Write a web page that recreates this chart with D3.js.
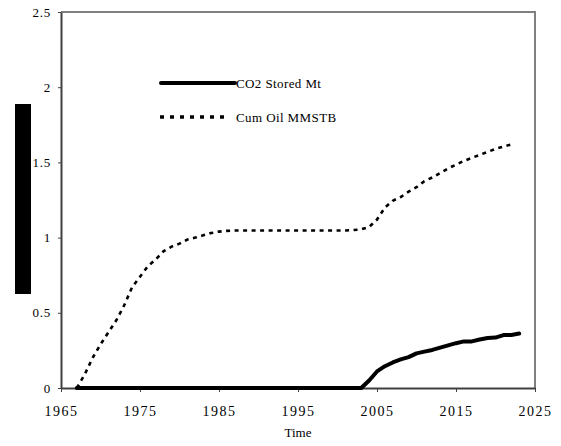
<!DOCTYPE html>
<html>
<head>
<meta charset="utf-8">
<script src="https://cdn.jsdelivr.net/npm/d3@7"></script>
<style>
  body { margin: 0; background: #fff; }
  text { font-family: "Liberation Serif", "Times New Roman", serif; fill: #000; }
</style>
</head>
<body>
<div id="chart"></div>
<script>
// Data
const oilYears = [1967, 1968, 1969, 1970, 1971, 1972, 1973, 1974, 1975, 1976,
  1977, 1978, 1979, 1980, 1981, 1982, 1983, 1984, 1985, 1986,
  1987, 1988, 1989, 1990, 1991, 1992, 1993, 1994, 1995, 1996,
  1997, 1998, 1999, 2000, 2001, 2002, 2003, 2004, 2005, 2006,
  2007, 2008, 2009, 2010, 2011, 2012, 2013, 2014, 2015, 2016,
  2017, 2018, 2019, 2020, 2021, 2022];
const cumOil = [0, 0.09, 0.2, 0.29, 0.37, 0.45, 0.55, 0.67, 0.74, 0.81,
  0.855, 0.91, 0.94, 0.96, 0.987, 1.0, 1.015, 1.03, 1.04, 1.045,
  1.047, 1.047, 1.047, 1.047, 1.047, 1.047, 1.047, 1.047, 1.047, 1.047,
  1.047, 1.047, 1.047, 1.047, 1.047, 1.05, 1.055, 1.07, 1.12, 1.2,
  1.245, 1.27, 1.305, 1.335, 1.375, 1.4, 1.43, 1.46, 1.485, 1.51,
  1.53, 1.55, 1.57, 1.59, 1.605, 1.62];

const co2Years = [1967, 1968, 1969, 1970, 1971, 1972, 1973, 1974, 1975, 1976,
  1977, 1978, 1979, 1980, 1981, 1982, 1983, 1984, 1985, 1986,
  1987, 1988, 1989, 1990, 1991, 1992, 1993, 1994, 1995, 1996,
  1997, 1998, 1999, 2000, 2001, 2002, 2003, 2004, 2005, 2006,
  2007, 2008, 2009, 2010, 2011, 2012, 2013, 2014, 2015, 2016,
  2017, 2018, 2019, 2020, 2021, 2022, 2023];
const co2Stored = [0, 0, 0, 0, 0, 0, 0, 0, 0, 0,
  0, 0, 0, 0, 0, 0, 0, 0, 0, 0,
  0, 0, 0, 0, 0, 0, 0, 0, 0, 0,
  0, 0, 0, 0, 0, 0, 0, 0.05, 0.11, 0.145,
  0.17, 0.19, 0.205, 0.23, 0.242, 0.253, 0.268, 0.283, 0.298, 0.31,
  0.31, 0.322, 0.332, 0.335, 0.352, 0.353, 0.362];

const xTicks = [1965, 1975, 1985, 1995, 2005, 2015, 2025];
const yTicks = [0, 0.5, 1, 1.5, 2, 2.5];
const seriesNames = ["CO2 Stored Mt", "Cum Oil MMSTB"];

const width = 561;
const height = 446;
const margin = {top: 12, right: 26, bottom: 58, left: 61};

const svg = d3.select("#chart")
  .append("svg")
    .attr("width", width)
    .attr("height", height);

const x = d3.scaleLinear()
  .domain([1965, 2025])
  .range([margin.left, width - margin.right]);
const y = d3.scaleLinear()
  .domain([0, 2.5])
  .range([height - margin.bottom, margin.top]);

// Frame: top and right in grey
svg.append("path")
  .attr("d", `M${x(1965)},${y(2.5)}H${x(2025)}V${y(0)}`)
  .attr("fill", "none")
  .attr("stroke", "#808080")
  .attr("stroke-width", 2);

// Axes
const xAxis = svg.append("g")
  .attr("transform", `translate(0,${y(0)})`)
  .call(d3.axisBottom(x).tickValues(xTicks).tickFormat(d3.format("d"))
    .tickSizeInner(4).tickSizeOuter(0));
const yAxis = svg.append("g")
  .attr("transform", `translate(${x(1965)},0)`)
  .call(d3.axisLeft(y).tickValues(yTicks).tickFormat(d => d)
    .tickSizeInner(3).tickSizeOuter(0));

[xAxis, yAxis].forEach(g => {
  g.select(".domain").attr("stroke", "#404040").attr("stroke-width", 2);
  g.selectAll(".tick line").attr("stroke", "#404040").attr("stroke-width", 1);
});
xAxis.selectAll(".tick text")
  .attr("font-size", 14)
  .attr("letter-spacing", 1.5)
  .attr("dy", "1.5em");
yAxis.selectAll(".tick text")
  .attr("font-size", 13)
  .attr("letter-spacing", 0.8)
  .attr("dx", "-0.3em");
svg.selectAll(".tick text").style("font-family", "Liberation Serif");

// X axis title
svg.append("text")
  .attr("x", (x(1965) + x(2025)) / 2)
  .attr("y", 437)
  .attr("text-anchor", "middle")
  .attr("font-size", 13)
  .text("Time");

// Y axis title hidden behind a black block
svg.append("rect")
  .attr("x", 15)
  .attr("y", 104)
  .attr("width", 16)
  .attr("height", 190)
  .attr("fill", "#000");

// Lines
const line = d3.line()
  .x(d => x(d[0]))
  .y(d => y(d[1]));

svg.append("path")
  .datum(d3.zip(oilYears, cumOil))
  .attr("d", line)
  .attr("fill", "none")
  .attr("stroke", "#000")
  .attr("stroke-width", 2.6)
  .attr("stroke-dasharray", "4,4.5");

svg.append("path")
  .datum(d3.zip(co2Years, co2Stored))
  .attr("d", line)
  .attr("fill", "none")
  .attr("stroke", "#000")
  .attr("stroke-width", 4)
  .attr("stroke-linejoin", "round")
  .attr("stroke-linecap", "round");

// Legend
const legend = svg.append("g");
const legendY = [83, 117];
legend.append("line")
  .attr("x1", 161).attr("x2", 235)
  .attr("y1", legendY[0]).attr("y2", legendY[0])
  .attr("stroke", "#000").attr("stroke-width", 4)
  .attr("stroke-linecap", "round");
legend.append("line")
  .attr("x1", 160).attr("x2", 224)
  .attr("y1", legendY[1]).attr("y2", legendY[1])
  .attr("stroke", "#000").attr("stroke-width", 3.5)
  .attr("stroke-dasharray", "4,6");
seriesNames.forEach((name, i) => {
  legend.append("text")
    .attr("x", 236)
    .attr("y", legendY[i])
    .attr("dy", "0.35em")
    .attr("font-size", 13)
    .attr("letter-spacing", 0.4)
    .text(name);
});
</script>
</body>
</html>
